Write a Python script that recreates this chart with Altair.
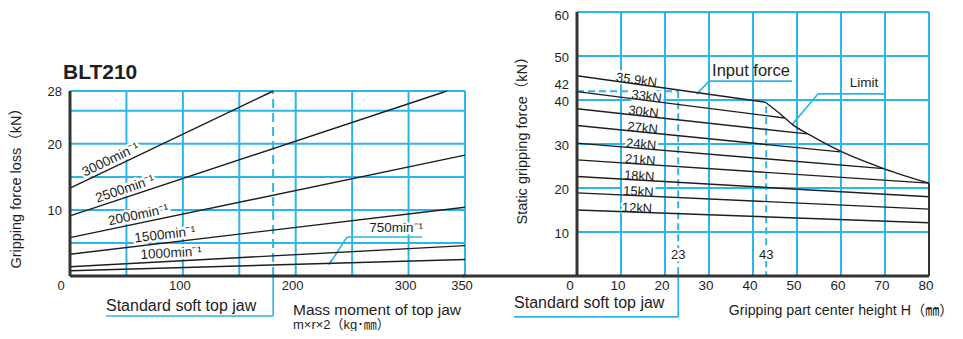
import math
import altair as alt
import pandas as pd

# ---------------- data: left chart (gripping force loss) ----------------
speed_names = ["3000min⁻¹", "2500min⁻¹", "2000min⁻¹", "1500min⁻¹", "1000min⁻¹", "750min⁻¹"]
loss_at_zero = [13.3, 9.1, 5.8, 3.3, 1.4, 0.8]
loss_end_moment = [180, 334, 350, 350, 350, 350]
loss_end_value = [28.0, 28.0, 18.3, 10.4, 4.6, 2.5]
loss_label_moment = [39, 51, 62, 85, 90]          # label anchors along the first five curves

left_x_ticks = [0, 100, 200, 300, 350]
left_y_ticks = [28, 20, 10]
left_grid_x = [50, 100, 150, 200, 250, 300, 350]
left_grid_y = [5, 10, 15, 20, 25, 28]
std_moment = 180

# ---------------- data: right chart (static gripping force) ----------------
force_names = ["35.9kN", "33kN", "30kN", "27kN", "24kN", "21kN", "18kN", "15kN", "12kN"]
grip_at_zero = [45.5, 41.9, 38.0, 34.2, 30.2, 26.4, 22.6, 18.9, 15.0]
grip_end_height = [42.8, 47.2, 52.3, 59.8, 69.7, 80, 80, 80, 80]
grip_end_value = [39.5, 35.9, 32.3, 28.2, 24.4, 21.1, 18.0, 15.2, 12.1]
grip_label_height = [13.4, 15.7, 15.0, 14.8, 14.5, 14.3, 14.1, 13.9, 13.6]
limit_height = [42.8, 46, 49, 53, 60, 70, 80]
limit_value = [39.5, 37.0, 34.4, 32.0, 28.3, 24.3, 21.1]

right_x_ticks = [0, 10, 20, 30, 40, 50, 60, 70, 80]
right_y_ticks = [60, 50, 42, 40, 30, 20, 10]
right_grid_x = [10, 20, 30, 40, 50, 60, 70, 80]
right_grid_y = [10, 20, 30, 40, 50, 60]
std_height = 23
std_force = 42
knee_height = 43
knee_dash_top = 38.6

# ---------------- styling ----------------
BLUE = "#2cb5ea"
INK = "#1e1e1e"
AXIS = "#333333"
FONT = "Liberation Sans, Arial, Noto Sans CJK JP, sans-serif"
W, H = 947, 323
L_XR, L_YR = [62, 457], [268, 83]
R_XR, R_YR = [569, 921], [268, 4]

LSX = alt.Scale(domain=[0, 350], range=L_XR, nice=False, zero=False)
LSY = alt.Scale(domain=[0, 28], range=L_YR, nice=False, zero=False)
RSX = alt.Scale(domain=[0, 80], range=R_XR, nice=False, zero=False)
RSY = alt.Scale(domain=[0, 60], range=R_YR, nice=False, zero=False)


def segs(rows, sx, sy, **mark):
    df = pd.DataFrame(rows, columns=["x", "y", "x2", "y2"])
    return alt.Chart(df).mark_rule(**mark).encode(
        x=alt.X("x:Q", scale=sx, axis=None),
        y=alt.Y("y:Q", scale=sy, axis=None),
        x2=alt.X2("x2"), y2=alt.Y2("y2"))


def texts(rows, sx, sy, font=FONT, **mark):
    df = pd.DataFrame(rows, columns=["x", "y", "t", "a"])
    return alt.Chart(df).mark_text(font=font, **mark).encode(
        x=alt.X("x:Q", scale=sx, axis=None),
        y=alt.Y("y:Q", scale=sy, axis=None),
        text="t:N",
        angle=alt.Angle("a:Q", scale=None))


def arrows(rows, sx, sy):
    df = pd.DataFrame(rows, columns=["x", "y", "a"])
    return alt.Chart(df).mark_point(shape="wedge", filled=True, size=45, color=BLUE, opacity=1).encode(
        x=alt.X("x:Q", scale=sx, axis=None),
        y=alt.Y("y:Q", scale=sy, axis=None),
        angle=alt.Angle("a:Q", scale=None))


def curve_rows(names, y0s, x1s, y1s):
    rows = []
    for n, y0, x1, y1 in zip(names, y0s, x1s, y1s):
        rows.append((n, 0, y0))
        rows.append((n, x1, y1))
    return pd.DataFrame(rows, columns=["s", "x", "y"])


def label_rows(names, y0s, x1s, y1s, lxs, px, py):
    rows = []
    for n, y0, x1, y1, lx in zip(names, y0s, x1s, y1s, lxs):
        slope = (y1 - y0) / x1
        ang = -math.degrees(math.atan(slope * py / px)) % 360
        rows.append((lx, y0 + slope * lx, n, ang))
    return rows


# ---------------- left panel ----------------
lpx = (L_XR[1] - L_XR[0]) / 350
lpy = (L_YR[0] - L_YR[1]) / 28
left_labels = label_rows(speed_names[:5], loss_at_zero, loss_end_moment, loss_end_value,
                         loss_label_moment, lpx, lpy)
halo = dict(color="white", stroke="white", strokeWidth=5, strokeJoin="round")

L = [
    segs([(g, 0, g, 28) for g in left_grid_x], LSX, LSY, color=BLUE, strokeWidth=2),
    segs([(0, g, 350, g) for g in left_grid_y], LSX, LSY, color=BLUE, strokeWidth=2),
    segs([(std_moment, 0, std_moment, 28)], LSX, LSY, color=BLUE, strokeWidth=2, strokeDash=[9, 5]),
    segs([(std_moment, 0, std_moment, -6.05), (31.9, -6.05, std_moment, -6.05),
          (245.4, 5.9, 311.9, 5.9), (245.4, 5.9, 229.5, 1.7)],
         LSX, LSY, color=BLUE, strokeWidth=1.6),
    arrows([(230.5, 2.2, 212)], LSX, LSY),
    texts(left_labels, LSX, LSY, fontSize=13.5, align="center", baseline="alphabetic", dy=-4, **halo),
    texts([(289, 7.3, speed_names[5], 0)], LSX, LSY, fontSize=13.5, align="center", baseline="middle", **halo),
    alt.Chart(curve_rows(speed_names, loss_at_zero, loss_end_moment, loss_end_value)).mark_line(
        color=INK, strokeWidth=1.4).encode(
        x=alt.X("x:Q", scale=LSX, axis=None), y=alt.Y("y:Q", scale=LSY, axis=None), detail="s:N"),
    segs([(0, 0, 0, 28), (0, 0, 350, 0)], LSX, LSY, color=AXIS, strokeWidth=3),
    texts(left_labels, LSX, LSY, fontSize=13.5, align="center", baseline="alphabetic", dy=-4, color=INK),
    texts([(289, 7.3, speed_names[5], 0)], LSX, LSY, fontSize=13.5, align="center", baseline="middle", color=INK),
    texts([(0, v, str(v), 0) for v in left_y_ticks], LSX, LSY, fontSize=13, align="right",
          baseline="middle", dx=-8, dy=1, color=INK),
    texts([(v, 0, str(v), 0) for v in left_x_ticks if v != 0], LSX, LSY, fontSize=13, align="center",
          baseline="middle", dx=-3, dy=10, color=INK),
    texts([(0, 0, "0", 0)], LSX, LSY, fontSize=13, align="center", baseline="middle", dx=-9, dy=10, color=INK),
    texts([(-6.2, 30.8, "BLT210", 0)], LSX, LSY, fontSize=21, fontWeight="bold", align="left",
          baseline="middle", color=INK),
    texts([(-47, 13.8, "Gripping force loss（kN）", 270)], LSX, LSY, fontSize=14.5, align="center",
          baseline="middle", color=INK),
    texts([(31.9, -4.5, "Standard soft top jaw", 0)], LSX, LSY, fontSize=16, align="left",
          baseline="middle", color=INK),
    texts([(197.6, -5.2, "Mass moment of top jaw", 0)], LSX, LSY, fontSize=15.5, align="left",
          baseline="middle", color=INK),
    texts([(197.6, -7.35, "m×r×2（kg･㎜）", 0)], LSX, LSY, fontSize=13, align="left",
          baseline="middle", color=INK),
]

# ---------------- right panel ----------------
rpx = (R_XR[1] - R_XR[0]) / 80
rpy = (R_YR[0] - R_YR[1]) / 60
right_labels = label_rows(force_names, grip_at_zero, grip_end_height, grip_end_value,
                          grip_label_height, rpx, rpy)
limit_df = pd.DataFrame({"x": limit_height, "y": limit_value})

R = [
    segs([(g, 0, g, 60) for g in right_grid_x], RSX, RSY, color=BLUE, strokeWidth=2),
    segs([(0, g, 80, g) for g in right_grid_y], RSX, RSY, color=BLUE, strokeWidth=2),
    segs([(0, std_force, std_height, std_force), (std_height, std_force, std_height, 0),
          (knee_height, knee_dash_top, knee_height, 0)],
         RSX, RSY, color=BLUE, strokeWidth=2, strokeDash=[7, 4]),
    segs([(std_height, 0, std_height, -9.3), (-14.3, -9.3, std_height, -9.3),
          (30, 44.3, 48.9, 44.3), (30, 44.3, 27.2, 41.3),
          (54.8, 41.4, 70, 41.4), (54.8, 41.4, 48.9, 34.4)],
         RSX, RSY, color=BLUE, strokeWidth=1.6),
    arrows([(27.6, 41.8, 219), (49.4, 35.0, 220)], RSX, RSY),
    texts(right_labels, RSX, RSY, fontSize=13, align="center", baseline="alphabetic", dy=0, **halo),
    texts([(std_height, 4.8, str(std_height), 0), (knee_height, 4.8, str(knee_height), 0)], RSX, RSY,
          fontSize=13, align="center", baseline="middle", **halo),
    alt.Chart(curve_rows(force_names, grip_at_zero, grip_end_height, grip_end_value)).mark_line(
        color=INK, strokeWidth=1.4).encode(
        x=alt.X("x:Q", scale=RSX, axis=None), y=alt.Y("y:Q", scale=RSY, axis=None), detail="s:N"),
    alt.Chart(limit_df).mark_line(color=INK, strokeWidth=1.4, interpolate="monotone").encode(
        x=alt.X("x:Q", scale=RSX, axis=None), y=alt.Y("y:Q", scale=RSY, axis=None)),
    segs([(0, 0, 0, 60), (-26, 0, 80, 0)], RSX, RSY, color=AXIS, strokeWidth=3),
    segs([(80, 0, 80, limit_value[-1])], RSX, RSY, color=AXIS, strokeWidth=2),
    texts(right_labels, RSX, RSY, fontSize=13, align="center", baseline="alphabetic", dy=0, color=INK),
    texts([(std_height, 4.8, str(std_height), 0), (knee_height, 4.8, str(knee_height), 0)], RSX, RSY,
          fontSize=13, align="center", baseline="middle", color=INK),
    texts([(0, v, str(v), 0) for v in right_y_ticks if v not in (42, 60)], RSX, RSY, fontSize=13,
          align="right", baseline="middle", dx=-8, dy=2, color=INK),
    texts([(0, 60, "60", 0)], RSX, RSY, fontSize=13, align="right", baseline="middle", dx=-8, dy=3.5, color=INK),
    texts([(0, 42, "42", 0)], RSX, RSY, fontSize=13, align="right", baseline="middle", dx=-8, dy=-6, color=INK),
    texts([(v, 0, str(v), 0) for v in right_x_ticks if v != 0], RSX, RSY, fontSize=13.5, align="center",
          baseline="middle", dx=-3, dy=10, color=INK),
    texts([(0, 0, "0", 0)], RSX, RSY, fontSize=13.5, align="center", baseline="middle", dx=-7, dy=10, color=INK),
    texts([(-12.3, 31.6, "Static gripping force（kN）", 270)], RSX, RSY, fontSize=14.5, align="center",
          baseline="middle", color=INK),
    texts([(-14.3, -6.1, "Standard soft top jaw", 0)], RSX, RSY, fontSize=16, align="left",
          baseline="middle", color=INK),
    texts([(34.5, -8.0, "Gripping part center height H（㎜）", 0)], RSX, RSY, fontSize=14.2, align="left",
          baseline="middle", color=INK),
    texts([(30.7, 46.6, "Input force", 0)], RSX, RSY, fontSize=16.5, align="left", baseline="middle", color=INK),
    texts([(65.2, 43.8, "Limit", 0)], RSX, RSY, fontSize=13.5, align="center", baseline="middle", color=INK),
]

left = alt.layer(*L)
right = alt.layer(*R)
chart = (
    alt.layer(left, right)
    .resolve_scale(x="independent", y="independent")
    .properties(width=W, height=H, autosize=alt.AutoSizeParams(type="none"), padding=0)
    .configure_view(stroke=None)
)
chart.save("out.html", embed_options={"renderer": "svg", "actions": False})
